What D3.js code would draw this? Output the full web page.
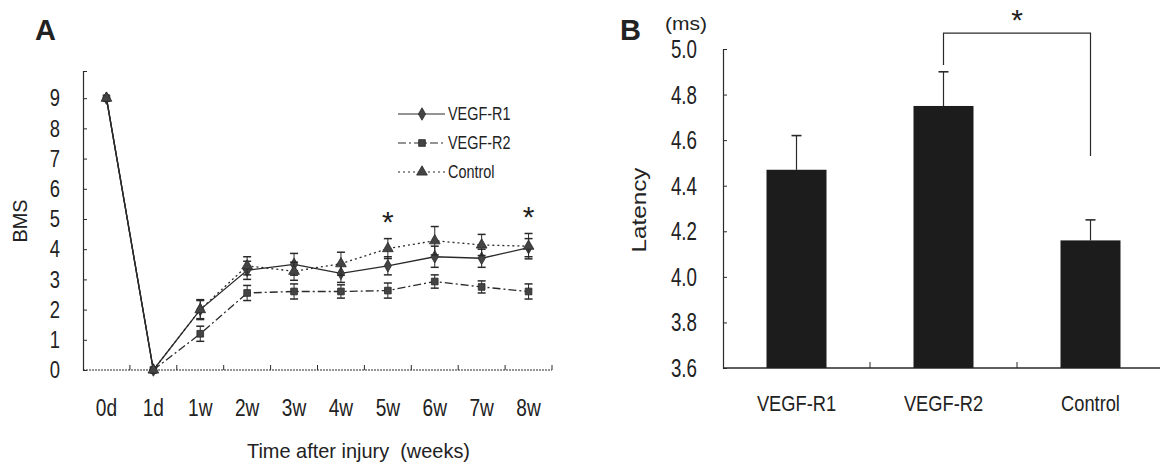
<!DOCTYPE html>
<html>
<head>
<meta charset="utf-8">
<script src="https://cdn.jsdelivr.net/npm/d3@7"></script>
<style>
  body { margin: 0; background: #fff; }
  svg { display: block; }
  text { font-family: 'Liberation Sans', Arial, sans-serif; fill: #222; }
</style>
</head>
<body>
<script>
// panel A: BMS score over time
const timepoints = ['0d', '1d', '1w', '2w', '3w', '4w', '5w', '6w', '7w', '8w'];
const r1Mean = [9, 0, 2.0, 3.3, 3.5, 3.2, 3.45, 3.75, 3.7, 4.05];
const r1Err = [0, 0, 0.33, 0.3, 0.36, 0.3, 0.3, 0.35, 0.3, 0.3];
const r2Mean = [9, 0, 1.2, 2.55, 2.6, 2.6, 2.63, 2.93, 2.75, 2.6];
const r2Err = [0, 0, 0.25, 0.25, 0.25, 0.22, 0.25, 0.22, 0.2, 0.25];
const ctrlMean = [9, 0, 2.0, 3.45, 3.27, 3.52, 4.02, 4.28, 4.14, 4.1];
const ctrlErr = [0, 0, 0.3, 0.3, 0.3, 0.38, 0.33, 0.47, 0.35, 0.42];
const bmsTicks = [0, 1, 2, 3, 4, 5, 6, 7, 8, 9];
const sigTimes = ['5w', '8w'];

// panel B: latency
const groups = ['VEGF-R1', 'VEGF-R2', 'Control'];
const latency = [4.47, 4.75, 4.16];
const latencyErr = [0.15, 0.15, 0.09];
const latencyTicks = [3.6, 3.8, 4.0, 4.2, 4.4, 4.6, 4.8, 5.0];
// bracket between VEGF-R2 and Control: left end, top, right end (ms)
const bracketPair = ['VEGF-R2', 'Control'];
const bracketLevels = [4.93, 5.07, 4.53];

const svg = d3.select('body').append('svg')
    .attr('width', 1160)
    .attr('height', 464);

const ink = '#2a2a2a';

// the original uses a tall narrow face, so squash Liberation Sans horizontally
function squeeze(sel, k) {
    sel.each(function () {
        const w = this.getComputedTextLength();
        d3.select(this).attr('textLength', w * k).attr('lengthAdjust', 'spacingAndGlyphs');
    });
    return sel;
}
function fit(sel, w) {
    return sel.attr('textLength', w).attr('lengthAdjust', 'spacingAndGlyphs');
}

// ---------- panel A ----------
const xA = d3.scaleBand().domain(timepoints).range([83, 552]);
const yA = d3.scaleLinear().domain([0, 9.9]).range([370, 71]);
const cx = d => xA(d) + xA.bandwidth() / 2;

svg.append('text')
    .attr('x', 35).attr('y', 40)
    .style('font-weight', 'bold').style('font-size', '29px')
    .text('A');

// y axis
const yAxisA = svg.append('g')
    .attr('transform', 'translate(83,0)')
    .call(d3.axisRight(yA).tickValues(bmsTicks).tickSize(4).tickFormat(''));
yAxisA.select('.domain').attr('stroke', ink).attr('stroke-width', 1.2);
yAxisA.selectAll('.tick line').attr('stroke', ink);

squeeze(svg.append('g').selectAll('text')
    .data(bmsTicks)
    .enter().append('text')
    .attr('x', 60)
    .attr('y', d => yA(d))
    .attr('dy', '0.36em')
    .attr('text-anchor', 'end')
    .style('font-size', '23px')
    .text(d => d), 0.8);

fit(svg.append('text')
    .attr('transform', 'translate(27,221) rotate(-90)')
    .attr('text-anchor', 'middle')
    .style('font-size', '21px')
    .text('BMS'), 43);

// x axis
const bounds = timepoints.map(t => xA(t) + xA.bandwidth());
svg.append('line')
    .attr('x1', 83).attr('x2', 552)
    .attr('y1', yA(0)).attr('y2', yA(0))
    .attr('stroke', ink).attr('stroke-width', 1.2)
    .attr('stroke-dasharray', '2,1');
svg.append('g').selectAll('line')
    .data(bounds)
    .enter().append('line')
    .attr('x1', d => d).attr('x2', d => d)
    .attr('y1', yA(0)).attr('y2', yA(0) - 5)
    .attr('stroke', ink);

squeeze(svg.append('g').selectAll('text')
    .data(timepoints)
    .enter().append('text')
    .attr('x', d => cx(d))
    .attr('y', 416)
    .attr('text-anchor', 'middle')
    .style('font-size', '23px')
    .text(d => d), 0.83);

fit(svg.append('text')
    .attr('x', 247).attr('y', 458)
    .style('font-size', '21px')
    .style('white-space', 'pre')
    .text('Time after injury  (weeks)'), 223);

// series
const series = [
    { name: 'VEGF-R1', mean: r1Mean, err: r1Err, dash: null, shape: d3.symbolDiamond, size: 45 },
    { name: 'VEGF-R2', mean: r2Mean, err: r2Err, dash: '8,3,2,3', shape: d3.symbolSquare, size: 45 },
    { name: 'Control', mean: ctrlMean, err: ctrlErr, dash: '2,3', shape: d3.symbolTriangle, size: 50 }
];

const line = d3.line()
    .x(d => cx(d.t))
    .y(d => yA(d.v));

series.forEach(function (s) {
    const pts = timepoints.map((t, i) => ({ t: t, v: s.mean[i], e: s.err[i] }));
    const g = svg.append('g');

    // error bars
    const eb = g.selectAll('g.err')
        .data(pts.filter(p => p.e > 0))
        .enter().append('g');
    eb.append('line')
        .attr('x1', d => cx(d.t)).attr('x2', d => cx(d.t))
        .attr('y1', d => yA(d.v - d.e)).attr('y2', d => yA(d.v + d.e))
        .attr('stroke', ink).attr('stroke-width', 1);
    eb.append('line')
        .attr('x1', d => cx(d.t) - 4).attr('x2', d => cx(d.t) + 4)
        .attr('y1', d => yA(d.v + d.e)).attr('y2', d => yA(d.v + d.e))
        .attr('stroke', ink).attr('stroke-width', 1.5);
    eb.append('line')
        .attr('x1', d => cx(d.t) - 4).attr('x2', d => cx(d.t) + 4)
        .attr('y1', d => yA(d.v - d.e)).attr('y2', d => yA(d.v - d.e))
        .attr('stroke', ink).attr('stroke-width', 1.5);

    // the drop from 0d to 1d is a solid line for every group
    g.append('path')
        .datum(pts.slice(0, 2))
        .attr('d', line)
        .attr('fill', 'none')
        .attr('stroke', ink).attr('stroke-width', 1.3);
    g.append('path')
        .datum(pts.slice(1))
        .attr('d', line)
        .attr('fill', 'none')
        .attr('stroke', ink).attr('stroke-width', 1.3)
        .attr('stroke-dasharray', s.dash);

    g.selectAll('path.mark')
        .data(pts)
        .enter().append('path')
        .attr('transform', d => 'translate(' + cx(d.t) + ',' + yA(d.v) + ')')
        .attr('d', d3.symbol().type(s.shape).size(s.size))
        .attr('fill', '#444').attr('stroke', ink).attr('stroke-width', 0.8);
});

// significance stars
svg.append('g').selectAll('text')
    .data(sigTimes)
    .enter().append('text')
    .attr('x', d => cx(d))
    .attr('y', d => yA(ctrlMean[timepoints.indexOf(d)] + ctrlErr[timepoints.indexOf(d)]) + 10)
    .attr('dy', '-0.55em')
    .attr('text-anchor', 'middle')
    .style('font-size', '30px')
    .text('*');

// legend
const legend = svg.append('g');
series.forEach(function (s, i) {
    const y = 114 + i * 29;
    legend.append('line')
        .attr('x1', 398).attr('x2', 445)
        .attr('y1', y).attr('y2', y)
        .attr('stroke', ink).attr('stroke-width', 1.2)
        .attr('stroke-dasharray', s.dash);
    legend.append('path')
        .attr('transform', 'translate(422,' + y + ')')
        .attr('d', d3.symbol().type(s.shape).size(s.size))
        .attr('fill', '#444').attr('stroke', ink).attr('stroke-width', 0.8);
    squeeze(legend.append('text')
        .attr('x', 448).attr('y', y)
        .attr('dy', '0.36em')
        .style('font-size', '18px')
        .text(s.name), 0.8);
});

// ---------- panel B ----------
const xB = d3.scaleBand().domain(groups).range([723, 1164]);
const yB = d3.scaleLinear().domain([3.6, 5.0]).range([368, 49]);
const barW = 60;
const bx = d => xB(d) + xB.bandwidth() / 2;

svg.append('text')
    .attr('x', 620).attr('y', 40)
    .style('font-weight', 'bold').style('font-size', '29px')
    .text('B');

fit(svg.append('text')
    .attr('x', 665).attr('y', 30)
    .style('font-size', '19px')
    .text('(ms)'), 42);

const yAxisB = svg.append('g')
    .attr('transform', 'translate(723,0)')
    .call(d3.axisRight(yB).tickValues(latencyTicks).tickSize(4).tickFormat(''));
yAxisB.select('.domain').attr('stroke', ink).attr('stroke-width', 1.2);
yAxisB.selectAll('.tick line').attr('stroke', ink);

squeeze(svg.append('g').selectAll('text')
    .data(latencyTicks)
    .enter().append('text')
    .attr('x', 697)
    .attr('y', d => yB(d))
    .attr('dy', '0.36em')
    .attr('text-anchor', 'end')
    .style('font-size', '25px')
    .text(d3.format('.1f')), 0.75);

fit(svg.append('text')
    .attr('transform', 'translate(646,210) rotate(-90)')
    .attr('text-anchor', 'middle')
    .style('font-size', '21px')
    .text('Latency'), 85);

// x axis
svg.append('line')
    .attr('x1', 723).attr('x2', 1164)
    .attr('y1', yB(3.6)).attr('y2', yB(3.6))
    .attr('stroke', ink).attr('stroke-width', 1.4);
svg.append('g').selectAll('line')
    .data(groups.slice(1))
    .enter().append('line')
    .attr('x1', d => xB(d)).attr('x2', d => xB(d))
    .attr('y1', yB(3.6)).attr('y2', yB(3.6) - 6)
    .attr('stroke', ink);

squeeze(svg.append('g').selectAll('text')
    .data(groups)
    .enter().append('text')
    .attr('x', d => bx(d))
    .attr('y', 411)
    .attr('text-anchor', 'middle')
    .style('font-size', '22px')
    .text(d => d), 0.83);

// bars + error bars
const bars = svg.append('g').selectAll('g')
    .data(groups)
    .enter().append('g');
bars.append('line')
    .attr('x1', d => bx(d)).attr('x2', d => bx(d))
    .attr('y1', (d, i) => yB(latency[i]))
    .attr('y2', (d, i) => yB(latency[i] + latencyErr[i]))
    .attr('stroke', ink).attr('stroke-width', 1.2);
bars.append('line')
    .attr('x1', d => bx(d) - 5).attr('x2', d => bx(d) + 5)
    .attr('y1', (d, i) => yB(latency[i] + latencyErr[i]))
    .attr('y2', (d, i) => yB(latency[i] + latencyErr[i]))
    .attr('stroke', ink).attr('stroke-width', 1.6);
bars.append('rect')
    .attr('x', d => bx(d) - barW / 2)
    .attr('y', (d, i) => yB(latency[i]))
    .attr('width', barW)
    .attr('height', (d, i) => yB(3.6) - yB(latency[i]))
    .attr('fill', '#1c1c1c');

// significance bracket
const bl = bx(bracketPair[0]), br = bx(bracketPair[1]);
svg.append('path')
    .attr('d', 'M' + bl + ',' + yB(bracketLevels[0]) +
        'V' + yB(bracketLevels[1]) +
        'H' + br +
        'V' + yB(bracketLevels[2]))
    .attr('fill', 'none')
    .attr('stroke', ink).attr('stroke-width', 1.2);
svg.append('text')
    .attr('x', (bl + br) / 2)
    .attr('y', yB(bracketLevels[1]) - 2)
    .attr('dy', '-0.05em')
    .attr('text-anchor', 'middle')
    .style('font-size', '30px')
    .text('*');
</script>
</body>
</html>
